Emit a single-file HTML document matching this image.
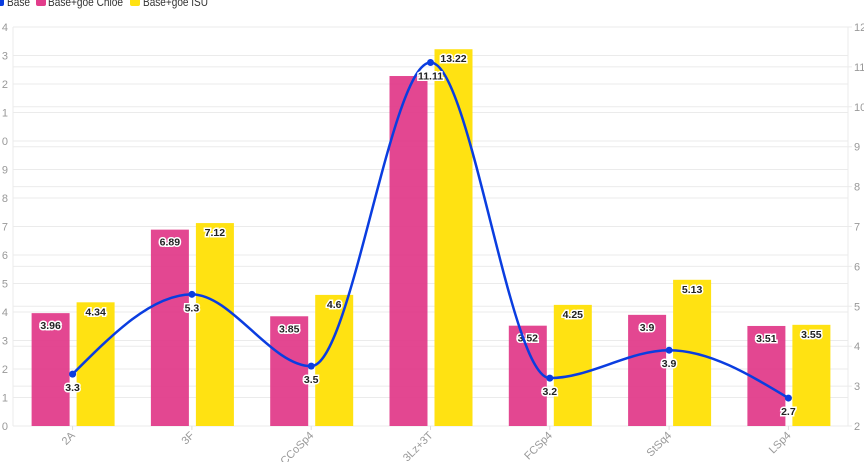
<!DOCTYPE html>
<html><head><meta charset="utf-8"><style>
html,body{margin:0;padding:0;background:#fff;}
svg{display:block;font-family:"Liberation Sans",sans-serif;}
.lbl{font-size:10.5px;font-weight:bold;fill:#222;stroke:#fff;stroke-width:3px;paint-order:stroke;text-anchor:middle;}
.ax{font-size:11px;fill:#999;}
</style></head><body>
<svg id="c" width="864" height="462" viewBox="0 0 864 462"></svg>
<script>
const s=document.getElementById('c');let h='';
const L=13,R=848,T=27,B=426;
h+=`<rect x="-6" y="-4" width="10" height="10" rx="2" fill="#0a3de0"/><text x="7" y="6" font-size="12" fill="#333" textLength="23" lengthAdjust="spacingAndGlyphs">Base</text>`;
h+=`<rect x="36" y="-4" width="10" height="10" rx="2" fill="#e23d8b"/><text x="48" y="6" font-size="12" fill="#333" textLength="75" lengthAdjust="spacingAndGlyphs">Base+goe Chloe</text>`;
h+=`<rect x="130" y="-4" width="10" height="10" rx="2" fill="#ffe212"/><text x="143" y="6" font-size="12" fill="#333" textLength="65" lengthAdjust="spacingAndGlyphs">Base+goe ISU</text>`;
for(let i=0;i<=14;i++){const y=B-i*28.5;h+=`<line x1="${L}" x2="${R}" y1="${y}" y2="${y}" stroke="#ebebeb"/><text class="ax" x="${L-5}" y="${y+4}" text-anchor="end">${i%10}</text>`;}
for(let i=2;i<=12;i++){const y=B-(i-2)*39.9;h+=`<line x1="${L}" x2="${R+4}" y1="${y}" y2="${y}" stroke="#ebebeb"/><text class="ax" x="${R+6}" y="${y+4}">${i}</text>`;}
h+=`<line x1="${L}" x2="${L}" y1="${T}" y2="${B}" stroke="#ebebeb"/><line x1="${R}" x2="${R}" y1="${T}" y2="${B}" stroke="#ebebeb"/>`;
const cats=['2A','3F','CCoSp4','3Lz+3T','FCSp4','StSq4','LSp4'];
const P=[3.96,6.89,3.85,12.28,3.52,3.9,3.51],Y=[4.34,7.12,4.6,13.22,4.25,5.13,3.55],Bs=[3.3,5.3,3.5,11.11,3.2,3.9,2.7];
const xs=cats.map((c,i)=>72.6+119.3*i);
cats.forEach((c,i)=>{const x=xs[i];
 const py=B-P[i]*28.5,yy=B-Y[i]*28.5;
 h+=`<rect x="${x-41}" y="${py}" width="38" height="${B-py}" fill="#e23d8b" opacity="0.95"/>`;
 h+=`<rect x="${x+4}" y="${yy}" width="38" height="${B-yy}" fill="#ffe212"/>`;
 if(i!=3)h+=`<text class="lbl" x="${x-22}" y="${py+16}">${P[i]}</text>`;
 h+=`<text class="lbl" x="${x+23}" y="${yy+13}">${Y[i]}</text>`;
 h+=`<line x1="${x}" x2="${x}" y1="${B}" y2="${B+4}" stroke="#ddd"/>`;
 h+=`<text class="ax" font-size="10" text-anchor="end" transform="translate(${x+3},${B+10}) rotate(-45)">${c}</text>`;
});
const pts=Bs.map((v,i)=>[xs[i],B-(v-2)*39.9]);
const n=pts.length,sl=[],m=[];
for(let i=0;i<n-1;i++)sl.push((pts[i+1][1]-pts[i][1])/(pts[i+1][0]-pts[i][0]));
for(let i=0;i<n;i++){
 if(i==0)m.push(sl[0]);else if(i==n-1)m.push(sl[n-2]);
 else{const a=sl[i-1],b=sl[i];m.push(a*b<=0?0:(Math.sign(a)*Math.min(Math.abs(a),Math.abs(b),0.5*Math.abs((a+b)/2))*2>0?Math.sign(a)*Math.min(Math.abs(a)*2,Math.abs(b)*2,Math.abs((a+b)/2)):0));}
}
// endpoints d3-style
m[0]=(3*sl[0]-m[1])/2; m[n-1]=(3*sl[n-2]-m[n-2])/2;
let d=`M${pts[0][0]},${pts[0][1]}`;
for(let i=0;i<n-1;i++){const dx=(pts[i+1][0]-pts[i][0])/3;
 d+=` C${pts[i][0]+dx},${pts[i][1]+m[i]*dx} ${pts[i+1][0]-dx},${pts[i+1][1]-m[i+1]*dx} ${pts[i+1][0]},${pts[i+1][1]}`;}
h+=`<path d="${d}" fill="none" stroke="#0a3de0" stroke-width="2.5"/>`;
pts.forEach((p,i)=>{h+=`<circle cx="${p[0]}" cy="${p[1]}" r="3.5" fill="#0a3de0"/><text class="lbl" x="${p[0]}" y="${p[1]+17}">${Bs[i]}</text>`;});
s.innerHTML=h;
</script>
</body></html>
